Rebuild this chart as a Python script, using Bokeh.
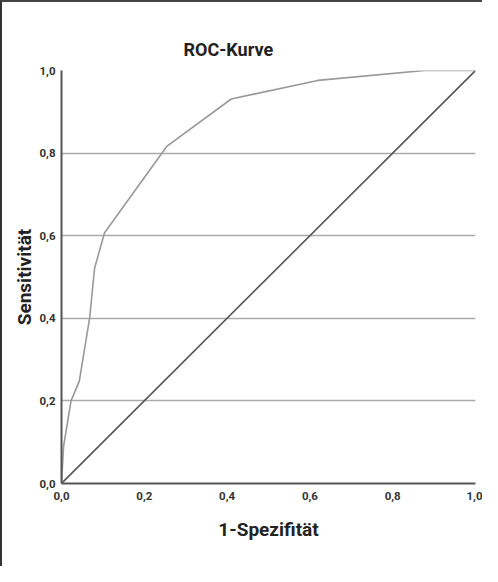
from bokeh.plotting import figure
from bokeh.models import Range1d, FixedTicker, CustomJSTickFormatter
from bokeh.embed import file_html
from bokeh.resources import INLINE

# data
fpr = [0.0, 0.005, 0.023, 0.043, 0.068, 0.080, 0.104, 0.255, 0.41, 0.619, 0.877, 1.0]
tpr = [0.0, 0.09, 0.2, 0.248, 0.401, 0.522, 0.607, 0.817, 0.931, 0.976, 1.0, 1.0]
ref_x = [0.0, 1.0]
ref_y = [0.0, 1.0]
ticks = [0.0, 0.2, 0.4, 0.6, 0.8, 1.0]
title_text = "ROC-Kurve"
x_label = "1-Spezifität"
y_label = "Sensitivität"

FONT = "Roboto"

p = figure(width=482, height=566, output_backend="svg", toolbar_location=None,
           x_range=Range1d(0, 1), y_range=Range1d(0, 1),
           title=title_text,
           min_border_left=59, min_border_right=9, min_border_top=68, min_border_bottom=85,
           styles={"border-left": "2px solid #333", "border-top": "2px solid #444"})
p.outline_line_color = None
p.background_fill_color = "white"
p.border_fill_color = "white"

p.title.text_font = FONT
p.title.text_font_style = "bold"
p.title.text_font_size = "18px"
p.title.text_color = "#222222"
p.title.align = "left"
p.title.offset = 122
p.title.standoff = 22

fmt = CustomJSTickFormatter(code="return tick.toFixed(1).replace('.', ',');")
for ax in (p.xaxis[0], p.yaxis[0]):
    ax.ticker = FixedTicker(ticks=ticks)
    ax.formatter = fmt
    ax.axis_line_color = "#555555"
    ax.axis_line_width = 2
    ax.major_tick_line_color = None
    ax.minor_tick_line_color = None
    ax.major_tick_out = 0
    ax.major_tick_in = 0
    ax.minor_tick_out = 0
    ax.major_label_text_font = FONT
    ax.major_label_text_font_style = "bold"
    ax.major_label_text_font_size = "11.5px"
    ax.major_label_text_color = "#333333"
    ax.axis_label_text_font = FONT
    ax.axis_label_text_font_style = "bold"
    ax.axis_label_text_font_size = "19px"
    ax.axis_label_text_color = "#222222"

p.xaxis.axis_label = x_label
p.yaxis.axis_label = y_label
p.xaxis.major_label_standoff = 8
p.yaxis.major_label_standoff = 6
p.xaxis.axis_label_standoff = 15
p.yaxis.axis_label_standoff = 0

p.xgrid.grid_line_color = None
p.ygrid.ticker = FixedTicker(ticks=ticks[1:])
p.ygrid.grid_line_color = "#aaaaaa"
p.ygrid.grid_line_width = 1.5

p.line(ref_x, ref_y, line_color="#555555", line_width=1.6)
p.line(fpr, tpr, line_color="#999999", line_width=1.6)

open("out.html", "w").write(file_html(p, INLINE))
